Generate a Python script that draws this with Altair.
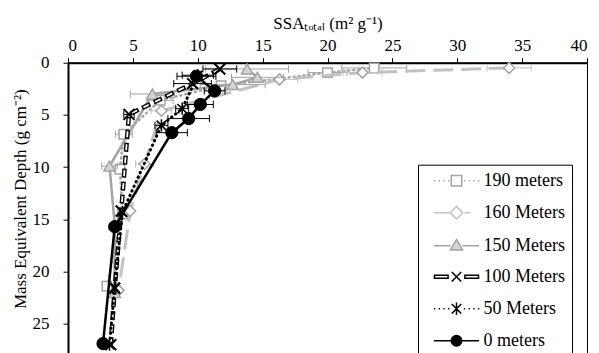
import altair as alt
import pandas as pd

SERIES = ["190 meters", "160 Meters", "\u00a0150 Meters\u00a0", "100 Meters", "50 Meters", "0 meters"]

# depth (g cm-2), SSA (m2 g-1), error half-width
d190_depth = [0.5, 0.95, 2.2, 3.6, 6.85, 10.2, 14.5, 21.4]
d190_ssa = [23.6, 20.0, 11.8, 7.1, 4.3, 4.0, 4.2, 3.0]
d190_err = [2.5, 1.5, 0, 1.0, 0.65, 0, 0, 0]

d160_depth = [0.5, 0.95, 1.6, 4.6, 9.7, 14.2, 21.8]
d160_ssa = [34.0, 22.7, 16.3, 7.2, 5.9, 4.8, 3.9]
d160_err = [1.7, 1.5, 1.4, 0.8, 0.7, 0, 0]

d150_depth = [0.6, 1.4, 2.1, 3.0, 9.9, 15.5, 22.0]
d150_ssa = [13.8, 14.6, 12.7, 6.5, 3.2, 3.6, 3.6]
d150_err = [3.2, 2.0, 2.5, 1.7, 0.6, 0, 0]

d100_depth = [0.6, 2.0, 4.95, 14.2, 21.6, 27.0]
d100_ssa = [11.7, 9.6, 4.7, 4.1, 3.6, 3.3]
d100_err = [1.3, 1.45, 0.4, 0, 0, 0]

d50_depth = [1.2, 4.4, 6.0, 14.3, 21.5, 27.0]
d50_ssa = [10.0, 8.8, 7.2, 4.2, 3.6, 3.2]
d50_err = [1.2, 0.5, 0.5, 0, 0, 0]

d0_depth = [1.3, 2.7, 4.0, 5.35, 6.7, 15.7, 26.9]
d0_ssa = [9.9, 11.3, 10.2, 9.3, 8.0, 3.6, 2.7]
d0_err = [1.5, 0.8, 1.0, 1.6, 1.2, 0, 0]

FONT = "Liberation Serif, Times New Roman, serif"
GRAY = "#a3a3a3"
LIGHT = "#c2c2c2"

X_PATH = "M-1,-1L1,1M-1,1L1,-1"
AST_PATH = "M-1,-1L1,1M-1,1L1,-1M0,-1.3L0,1.3"

styles = [
    dict(name=SERIES[0], depth=d190_depth, ssa=d190_ssa, err=d190_err, color=GRAY,
         line=dict(strokeWidth=2.5, strokeDash=[1, 4], strokeCap="round"),
         pt=dict(shape="square", size=90, filled=True, fill="white", stroke=GRAY, strokeWidth=1.5)),
    dict(name=SERIES[1], depth=d160_depth, ssa=d160_ssa, err=d160_err, color=LIGHT,
         line=dict(strokeWidth=3, strokeDash=[20, 8]),
         pt=dict(shape="diamond", size=120, filled=True, fill="white", stroke=GRAY, strokeWidth=1.5)),
    dict(name=SERIES[2], depth=d150_depth, ssa=d150_ssa, err=d150_err, color=GRAY,
         line=dict(strokeWidth=2.5),
         pt=dict(shape="triangle-up", size=130, filled=True, fill="#d4d4d4", stroke=GRAY, strokeWidth=1.5)),
    dict(name=SERIES[3], depth=d100_depth, ssa=d100_ssa, err=d100_err, color="black",
         line=dict(strokeWidth=4.5, strokeDash=[9, 4]),
         pt=dict(shape=X_PATH, size=120, filled=False, stroke="black", strokeWidth=2)),
    dict(name=SERIES[4], depth=d50_depth, ssa=d50_ssa, err=d50_err, color="black",
         line=dict(strokeWidth=3, strokeDash=[0.5, 4.5], strokeCap="round"),
         pt=dict(shape=AST_PATH, size=90, filled=False, stroke="black", strokeWidth=1.5)),
    dict(name=SERIES[5], depth=d0_depth, ssa=d0_ssa, err=d0_err, color="black",
         line=dict(strokeWidth=2.5),
         pt=dict(shape="circle", size=150, filled=True, fill="black", stroke="black", strokeWidth=1)),
]

xscale = alt.Scale(domain=[0, 40], nice=False, zero=False)
yscale = alt.Scale(domain=[0, 30], reverse=True, nice=False)

XTITLE = "SSA\u209c\u2092\u209c\u2090\u2097 (m\u00b2 g\u207b\u00b9)"
YTITLE = "Mass Equivalent Depth (g cm\u207b\u00b2)"
xaxis = alt.Axis(orient="top", values=list(range(0, 41, 5)),
                 grid=False, domainColor="black", domainWidth=2, tickColor="black", tickSize=5,
                 labelFont=FONT, labelFontSize=17, labelColor="black", labelPadding=3,
                 titleFont=FONT, titleFontSize=17, titleFontWeight="normal", titleColor="black", titlePadding=4)
yaxis = alt.Axis(values=list(range(0, 26, 5)),
                 grid=False, domainColor="black", domainWidth=2, tickColor="black", tickSize=5,
                 labelFont=FONT, labelFontSize=17, labelColor="black", labelPadding=14,
                 titleFont=FONT, titleFontSize=17, titleFontWeight="normal", titleColor="black", titlePadding=3,
                 titleY=136)


def X(field):
    return alt.X(field, scale=xscale, axis=xaxis, title=XTITLE)


def Y(field):
    return alt.Y(field, scale=yscale, axis=yaxis, title=YTITLE)


layers = []
for s in styles:
    df = pd.DataFrame({"depth": s["depth"], "ssa": s["ssa"], "err": s["err"]})
    df["lo"] = df["ssa"] - df["err"]
    df["hi"] = df["ssa"] + df["err"]
    df["d0"] = df["depth"] - 0.35
    df["d1"] = df["depth"] + 0.35
    eb = df[df["err"] > 0]
    base = alt.Chart(eb)
    layers.append(base.mark_rule(color=s["color"], strokeWidth=1).encode(x=X("lo:Q"), x2="hi:Q", y=Y("depth:Q")))
    for col in ["lo", "hi"]:
        layers.append(base.mark_rule(color=s["color"], strokeWidth=1).encode(
            x=X(f"{col}:Q"), y=Y("d0:Q"), y2="d1:Q"))
    lc = alt.Chart(df)
    enc = dict(x=X("ssa:Q"), y=Y("depth:Q"), order=alt.Order("depth:Q"))
    layers.append(lc.mark_line(color=s["color"], **s["line"]).encode(**enc))
    if s["name"] == SERIES[3]:
        layers.append(lc.mark_line(color="white", strokeWidth=1.8, strokeDash=[6, 7],
                                   strokeDashOffset=11.5).encode(**enc))
    layers.append(lc.mark_point(opacity=1, **s["pt"]).encode(x=X("ssa:Q"), y=Y("depth:Q")))


# legend symbols: line sample + marker, drawn as custom symbol paths
def dots(xs):
    return "".join(f"M{a},0L{a+0.25:.2f},0" for a in xs)


LEG_PATHS = [
    dots([-4.3, -3.4, -2.5, -1.6]) + dots([1.4, 2.3, 3.2, 4.1]) + "M-1,-1L1,-1L1,1L-1,1Z",
    "M-4.3,0L-1.3,0M1.5,0L2.6,0M-1.2,0L0,-1.2L1.2,0L0,1.2Z",
    "M-4.3,0L-1.1,0M1.1,0L4.3,0M0,-1.2L1.15,0.8L-1.15,0.8Z",
    "M-4.2,-0.3L-1.6,-0.3L-1.6,0.3L-4.2,0.3ZM1.6,-0.3L4.2,-0.3L4.2,0.3L1.6,0.3ZM-0.9,-0.9L0.9,0.9M-0.9,0.9L0.9,-0.9",
    dots([-4.3, -3.4, -2.5, -1.6]) + dots([1.4, 2.3, 3.2, 4.1]) + "M-0.9,-0.9L0.9,0.9M-0.9,0.9L0.9,-0.9M0,-1.2L0,1.2",
    "M-4.3,0L-1,0M1,0L4.3,0M-1,0A1,1 0 1,1 1,0A1,1 0 1,1 -1,0Z",
]
LEG_STROKE = [GRAY, LIGHT, GRAY, "black", "black", "black"]
LEG_FILL = ["white", "white", "#d4d4d4", "white", "white", "black"]

leg = alt.Legend(title=None, orient="none", legendX=350, legendY=102, strokeColor="black", fillColor="white",
                 padding=7, labelFont=FONT, labelFontSize=18, labelColor="black", labelOffset=18,
                 symbolOffset=22.5, rowPadding=13, symbolOpacity=1, symbolSize=110, symbolStrokeWidth=1.5,
                 symbolFillColor="white")
leg_df = pd.DataFrame({"series": SERIES,
                       "ssa": [d190_ssa[0], d160_ssa[0], d150_ssa[0], d100_ssa[0], d50_ssa[0], d0_ssa[0]],
                       "depth": [d190_depth[0], d160_depth[0], d150_depth[0], d100_depth[0], d50_depth[0], d0_depth[0]]})
layers.append(alt.Chart(leg_df).mark_point(opacity=0, filled=True, size=110, strokeWidth=1.5).encode(
    x=X("ssa:Q"), y=Y("depth:Q"),
    shape=alt.Shape("series:N", scale=alt.Scale(domain=SERIES, range=LEG_PATHS), legend=leg),
    stroke=alt.Stroke("series:N", scale=alt.Scale(domain=SERIES, range=LEG_STROKE), legend=leg),
    fill=alt.Fill("series:N", scale=alt.Scale(domain=SERIES, range=LEG_FILL), legend=leg),
))

chart = alt.layer(*layers).properties(
    width=583, height=368, background="white",
    padding={"left": 3, "top": 6.7, "right": 3, "bottom": 0},
    autosize=alt.AutoSizeParams(type="fit", contains="padding"),
).configure_view(stroke="black", strokeWidth=1)

chart.save("out.html", embed_options={"renderer": "svg", "actions": False})
